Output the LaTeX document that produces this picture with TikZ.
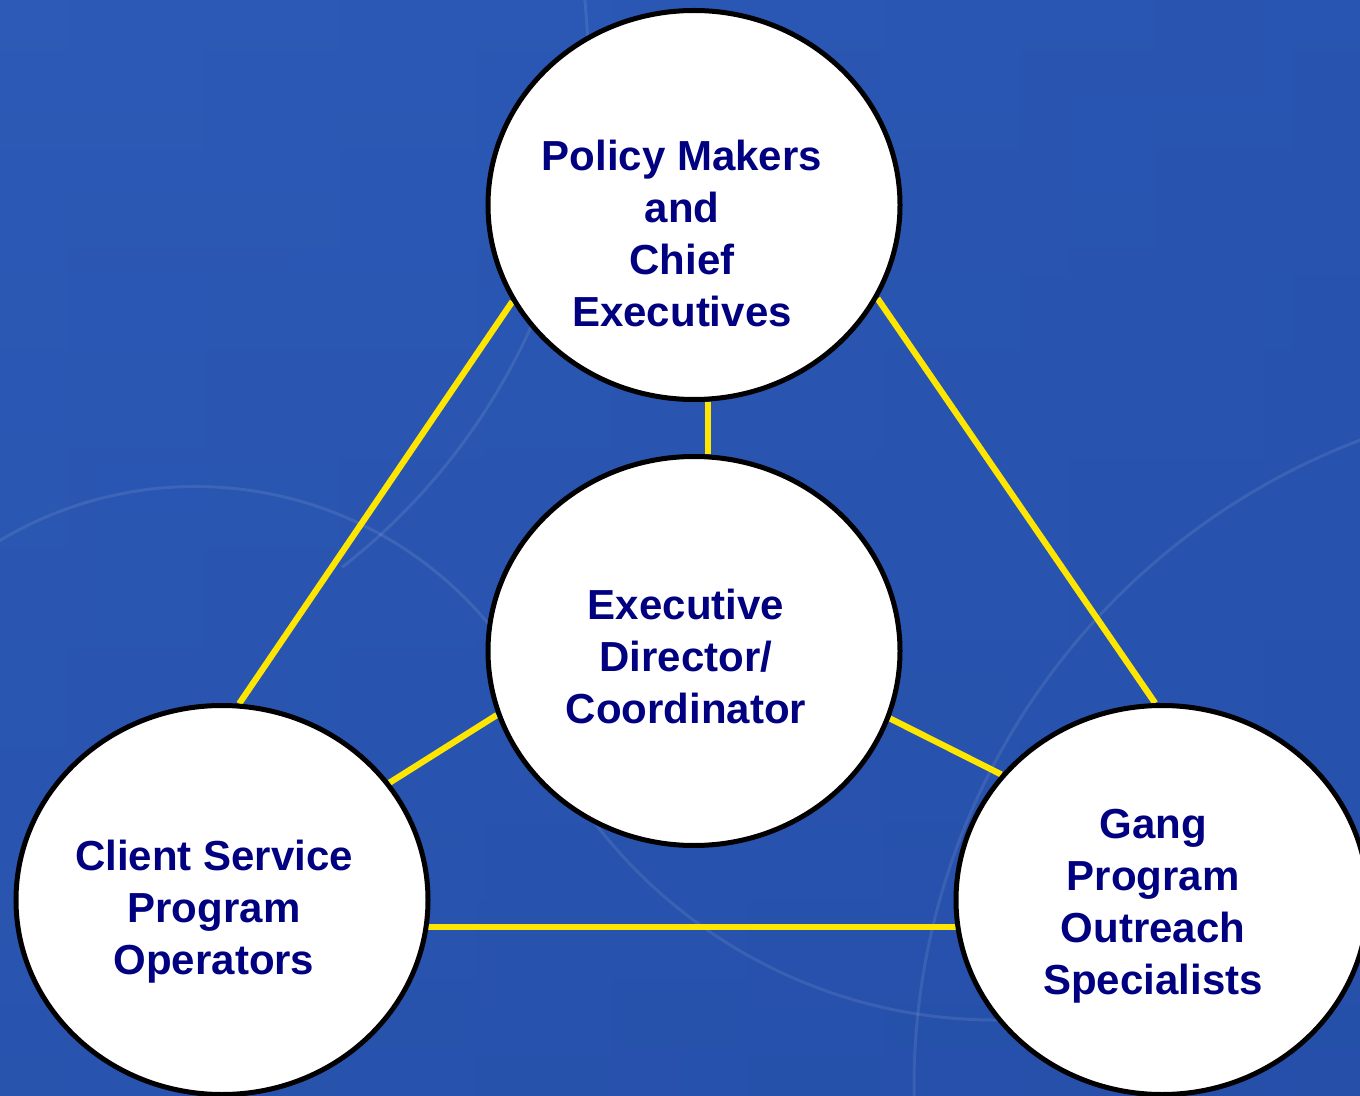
\documentclass[tikz,border=0pt]{standalone}
\usepackage{fontspec}
\setmainfont{Liberation Sans}
\usetikzlibrary{shapes.geometric}
\definecolor{bgleft}{HTML}{2C5AB6}
\definecolor{bgright}{HTML}{2550AC}
\definecolor{bgbot}{HTML}{264FA8}
\definecolor{navytext}{HTML}{000080}
\definecolor{linkyellow}{HTML}{FFE600}
\pgfdeclarelayer{back}
\pgfdeclarelayer{links}
\pgfsetlayers{back,links,main}
\begin{document}
\begin{tikzpicture}[x=0.5pt,y=-0.5pt,
  role/.style={ellipse, draw=black, line width=2.5pt, fill=white,
    minimum width=206pt, minimum height=194.5pt, inner sep=0pt},
  rolelabel/.style={font=\bfseries\fontsize{21}{26}\selectfont, text=navytext,
    align=center, inner sep=0pt},
  link/.style={draw=linkyellow, line width=3.1pt},
  glow/.style={draw=white, opacity=0.09, line width=1.5pt}]
\useasboundingbox (0,0) rectangle (1360,1096);
\clip (0,0) rectangle (1360,1096);

\node[role] (pm) at (694,205) {};
\node[role] (ed) at (694,651) {};
\node[role] (cs) at (222,900) {};
\node[role] (gp) at (1162,900) {};

\node[rolelabel] (pmt) at (682,233) {Policy Makers\\and\\Chief\\Executives};
\node[rolelabel] (edt) at (686,656) {Executive\\Director/\\Coordinator};
\node[rolelabel] (cst) at (214,912) {Client Service\\Program\\Operators};
\node[rolelabel] (gpt) at (1153,906) {Gang\\Program\\Outreach\\Specialists};

\begin{pgfonlayer}{back}
\shade[left color=bgleft, right color=bgright] (0,0) rectangle (1360,1096);
\shade[top color=bgleft, bottom color=bgbot, opacity=0.5] (0,0) rectangle (1360,1096);
% faint background arcs
\draw[glow] ([shift={(-125:381)}]195.5,867.5) arc[start angle=-125, end angle=-36, radius=381];
\draw[glow] ([shift={(-8:640)}]-52,63) arc[start angle=-8, end angle=52, radius=640];
\draw[glow] ([shift={(-108:692)}]1606,1087) arc[start angle=-108, end angle=-182, radius=692];
\draw[glow] ([shift={(145:505)}]995,515) arc[start angle=145, end angle=85, radius=505];
\end{pgfonlayer}

\begin{pgfonlayer}{links}
\draw[link] (pm.208.8) -- (cs.85.6);
\draw[link] (pm.333.6) -- (gp.92.9);
\draw[link] (pm.274) -- (ed.86);
\draw[link] (ed.198.1) -- (cs.35.5);
\draw[link] (ed.341.9) -- (gp.142.3);
\coordinate (bl) at ([yshift=-27*0.5pt]cs.center);
\draw[link] (bl) -- (bl -| gp.center);
\end{pgfonlayer}
\end{tikzpicture}
\end{document}
